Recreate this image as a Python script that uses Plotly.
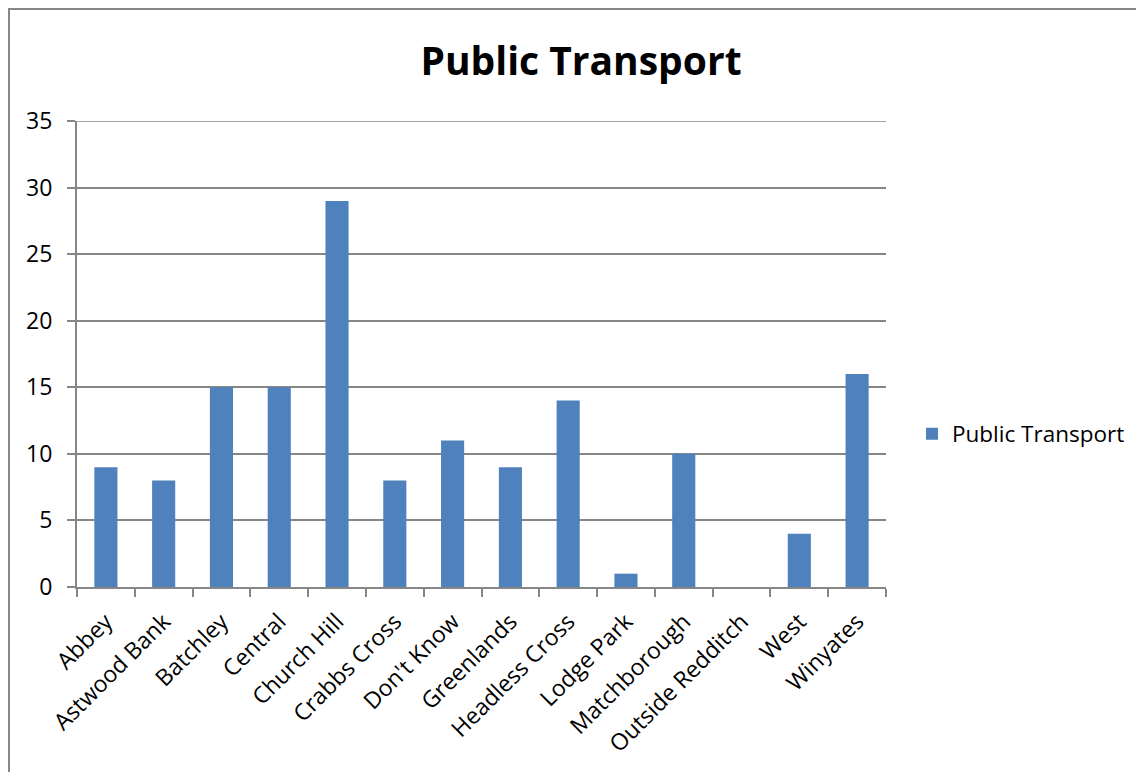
import plotly.graph_objects as go

categories = ["Abbey", "Astwood Bank", "Batchley", "Central", "Church Hill", "Crabbs Cross",
              "Don't Know", "Greenlands", "Headless Cross", "Lodge Park", "Matchborough",
              "Outside Redditch", "West", "Winyates"]
values = [9, 8, 15, 15, 29, 8, 11, 9, 14, 1, 10, 0, 4, 16]
y_ticks = [0, 5, 10, 15, 20, 25, 30, 35]

W, H = 1144, 772
ml, mr, mt, mb = 69, 266, 113, 193
pw, ph = W - ml - mr, H - mt - mb

def px_x(p):
    return (p - ml) / pw

def px_y(p):
    return 1 - (p - mt) / ph

FONT = "Open Sans"
GRID = "#868686"

fig = go.Figure()
fig.add_trace(go.Bar(x=categories, y=values, name="Public Transport",
                     marker=dict(color="#4F81BD", line=dict(width=0))))

fig.update_layout(
    width=W, height=H,
    margin=dict(l=ml, r=mr, t=mt, b=mb, autoexpand=False),
    paper_bgcolor="white", plot_bgcolor="white",
    bargap=0.6,
    showlegend=True,
    font=dict(family=FONT, color="black", size=23),
    title=dict(text="<b>Public Transport</b>", x=px_x(573), xref="paper", xanchor="center",
               y=1 - 53 / H, yanchor="middle", font=dict(size=39, family=FONT)),
    legend=dict(x=px_x(904), xanchor="left", y=px_y(426), yanchor="middle",
                font=dict(size=22.5), bgcolor="rgba(0,0,0,0)"),
    xaxis=dict(type="category", tickangle=-45, showgrid=False, showline=True,
               linecolor=GRID, linewidth=2, ticks="outside", tickson="boundaries",
               ticklen=8, tickcolor=GRID, tickwidth=2, tickfont=dict(size=23),
               ticklabelstandoff=10),
    yaxis=dict(range=[0, 35], tickvals=y_ticks, showgrid=True, gridcolor=GRID, gridwidth=1.5,
               showline=True, linecolor=GRID, linewidth=2, ticks="outside", ticklen=8,
               tickcolor=GRID, tickwidth=2, zeroline=False, tickfont=dict(size=23),
               ticklabelstandoff=10),
    shapes=[
        dict(type="rect", xref="paper", yref="paper",
             x0=px_x(1), x1=px_x(1160), y0=px_y(1), y1=px_y(800),
             line=dict(color=GRID, width=2), fillcolor="rgba(0,0,0,0)", layer="below"),
        dict(type="line", xref="paper", yref="y", x0=0, x1=1,
             y0=max(y_ticks), y1=max(y_ticks), line=dict(color=GRID, width=1.5)),
    ],
)

fig.write_html("out.html")
